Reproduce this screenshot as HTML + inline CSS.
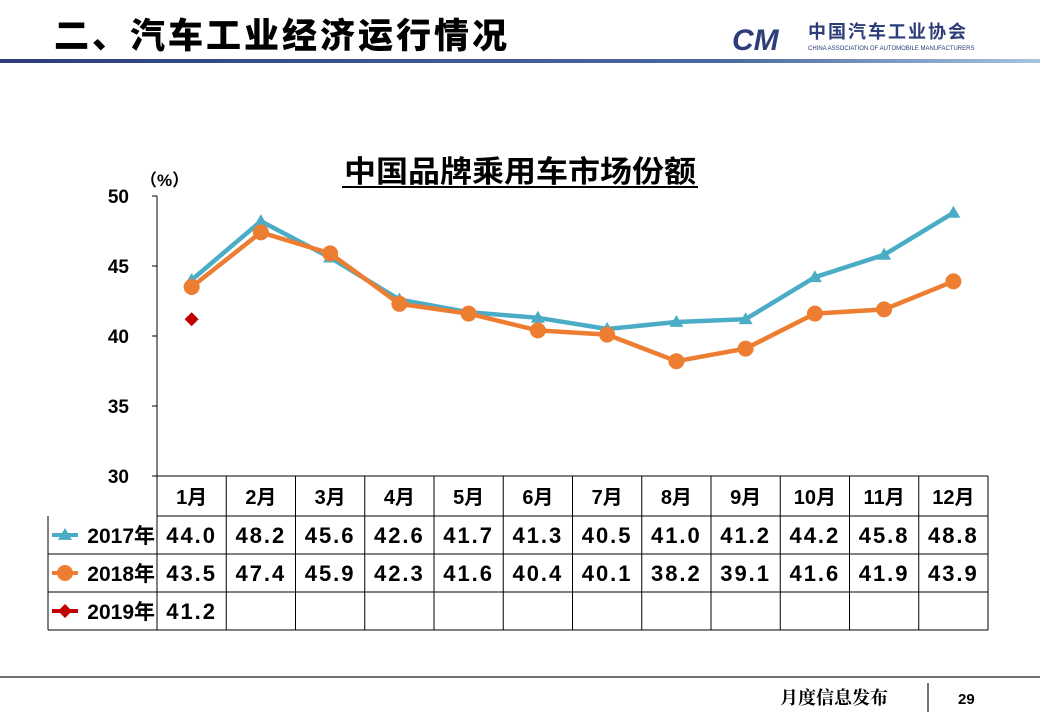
<!DOCTYPE html>
<html><head><meta charset="utf-8"><style>
body{margin:0;width:1040px;height:720px;background:#fff;overflow:hidden;font-family:"Liberation Sans","Noto Sans CJK SC",sans-serif;}
.t{position:absolute;white-space:nowrap;line-height:1}
</style></head><body>
<svg width="1040" height="720" style="position:absolute;left:0;top:0" id="s">
<defs><linearGradient id="g" x1="0" x2="1"><stop offset="0" stop-color="#2c3d7a"/><stop offset="0.7" stop-color="#4a6aa0"/><stop offset="1" stop-color="#a8c4e0"/></linearGradient></defs>
<rect x="0" y="59" width="1040" height="4" fill="url(#g)"/>
<g>
<text x="732" y="50" font-size="30" font-weight="bold" font-style="italic" fill="#2c3d7a" font-family="Liberation Sans">CM</text>
<text x="808" y="38" font-size="18" font-weight="bold" fill="#2c3d7a" font-family="Liberation Sans,Noto Sans CJK SC,sans-serif" letter-spacing="2">中国汽车工业协会</text>
<text x="808" y="50" font-size="6" fill="#2c3d7a" font-family="Liberation Sans">CHINA ASSOCIATION OF AUTOMOBILE MANUFACTURERS</text>
</g>
<text x="344" y="182" textLength="352" lengthAdjust="spacingAndGlyphs" font-size="30" font-weight="bold" font-family="Liberation Sans,Noto Sans CJK SC,sans-serif">中国品牌乘用车市场份额</text>
<line x1="342" y1="187" x2="698" y2="187" stroke="#000" stroke-width="2"/>
<text x="140" y="186" font-size="17" font-weight="bold" font-family="Liberation Sans,Noto Sans CJK SC,sans-serif">（%）</text>
<g id="ax"></g><g id="tb"></g><g id="ln"></g>
<line x1="0" y1="677" x2="1040" y2="677" stroke="#444" stroke-width="1.5"/>
<line x1="928" y1="683" x2="928" y2="712" stroke="#444" stroke-width="1.5"/>
<text x="780" y="704" font-size="18" font-weight="bold" font-family="Liberation Serif,Noto Serif CJK SC,serif">月度信息发布</text>
<text x="958" y="704" font-size="15" font-weight="bold" font-family="Liberation Sans">29</text>
</svg>
<div class="t" style="left:54px;top:19px;font-size:35px;font-weight:900;color:#000;letter-spacing:3px">二、汽车工业经济运行情况</div>
<script>
const months=["1月","2月","3月","4月","5月","6月","7月","8月","9月","10月","11月","12月"];
const s2017=[44.0,48.2,45.6,42.6,41.7,41.3,40.5,41.0,41.2,44.2,45.8,48.8];
const s2018=[43.5,47.4,45.9,42.3,41.6,40.4,40.1,38.2,39.1,41.6,41.9,43.9];
const s2019=[41.2];
const yTicks=[30,35,40,45,50];
const NS="http://www.w3.org/2000/svg";
const X0=157,X1=988,cw=(X1-X0)/12;
const x=i=>X0+cw*(i+0.5);
const y=v=>476-(v-30)*14;
function el(p,t,a){const e=document.createElementNS(NS,t);for(const k in a)e.setAttribute(k,a[k]);p.appendChild(e);return e;}
const ax=document.getElementById('ax'),tb=document.getElementById('tb'),ln=document.getElementById('ln');
const yl=el(ax,'line',{x1:X0,y1:y(50),x2:X0,y2:476,stroke:'#000','stroke-width':1});

yTicks.forEach(t=>{
 el(ax,'line',{x1:X0-5,x2:X0,y1:y(t),y2:y(t),stroke:'#000'});
 const tx=el(ax,'text',{x:X0-28,y:y(t)+7,'text-anchor':'end','font-size':19,'font-weight':'bold','font-family':'Liberation Sans'});
 tx.textContent=t;
 
});
const rows=[476,516,554,592,630];
const F='Liberation Sans,Noto Sans CJK SC,sans-serif';
el(tb,'line',{x1:X0,x2:X1,y1:476,y2:476,stroke:'#000'});
for(let r=1;r<rows.length;r++)el(tb,'line',{x1:r==1?X0:48,x2:X1,y1:rows[r],y2:rows[r],stroke:'#000'});
el(tb,'line',{x1:48,x2:48,y1:516,y2:630,stroke:'#000'});
for(let i=0;i<=12;i++)el(tb,'line',{x1:X0+cw*i,x2:X0+cw*i,y1:476,y2:630,stroke:'#000'});
months.forEach((m,i)=>{const t=el(tb,'text',{x:x(i),y:504,'text-anchor':'middle','font-size':20,'font-weight':'bold','font-family':F});t.textContent=m;
 });
const series=[["2017年",s2017,'#4bacc6','tri'],["2018年",s2018,'#ed7d31','circ'],["2019年",s2019,'#c00000','dia']];
function mark(p,t,cx,cy,c,sz){
 if(t=='tri')return el(p,'path',{d:`M${cx},${cy-sz} L${cx+sz},${cy+sz*0.7} L${cx-sz},${cy+sz*0.7}Z`,fill:c});
 if(t=='circ')return el(p,'circle',{cx,cy,r:sz,fill:c});
 return el(p,'path',{d:`M${cx},${cy-sz} L${cx+sz},${cy} L${cx},${cy+sz} L${cx-sz},${cy}Z`,fill:c});
}
series.forEach((s,k)=>{
 const ry=(rows[k+1]+rows[k+2])/2;
 el(tb,'line',{x1:52,x2:78,y1:ry,y2:ry,stroke:s[2],'stroke-width':4});
 mark(tb,s[3],65,ry,s[2],s[3]=='circ'?8:7);
 const lb=el(tb,'text',{x:155,y:ry+8,'text-anchor':'end','font-size':21,'font-weight':'bold','font-family':F});lb.textContent=s[0];
 
 s[1].forEach((v,i)=>{const t=el(tb,'text',{x:x(i),y:ry+8,'text-anchor':'middle','font-size':22,'font-weight':'bold','font-family':'Liberation Sans','letter-spacing':'2'});t.textContent=v.toFixed(1);
  });
 const g=el(ln,'g',{});
 
 if(s[1].length>1){el(g,'polyline',{points:s[1].map((v,i)=>x(i)+','+y(v)).join(' '),fill:'none',stroke:s[2],'stroke-width':4.5});}
 s[1].forEach((v,i)=>{const m=mark(g,s[3],x(i),y(v),s[2],s[3]=='circ'?8:7);
  });
});
</script>
</body></html>
